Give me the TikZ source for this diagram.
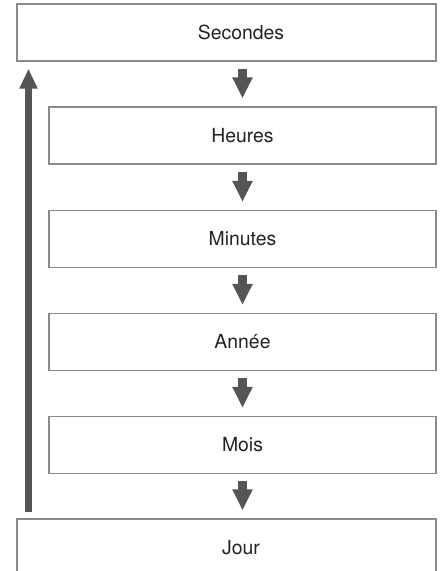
\documentclass[tikz,border=0pt]{standalone}
\usepackage{fontspec}
\setmainfont{TeX Gyre Heros}
\usetikzlibrary{arrows.meta}
\definecolor{boxline}{HTML}{8A8A8A}
\definecolor{arrowgray}{HTML}{555555}
\definecolor{textgray}{HTML}{222222}
\tikzset{
  unitbox/.style={draw=boxline, line width=0.65pt, minimum height=28.5pt,
    inner sep=0pt, text=textgray, font=\fontsize{9.7}{12}\selectfont},
  widebox/.style={unitbox, minimum width=209.5pt},
  narrowbox/.style={unitbox, minimum width=193.5pt},
  downarrow/.style={draw=arrowgray, line width=4.5pt,
    -{Triangle[width=9.5pt,length=10.5pt]}, shorten <=3.5pt, shorten >=4pt},
  backarrow/.style={draw=arrowgray, line width=3.7pt,
    -{Triangle[width=8.5pt,length=10pt]}, shorten <=3pt, shorten >=3.5pt}
}
% text in the wide boxes lines up with the arrows
\newcommand{\wideshift}[1]{\hspace*{14.5pt}#1}
\begin{document}
\begin{tikzpicture}[x=0.5pt, y=-0.5pt]
            \useasboundingbox (0,0) rectangle (442,571);

            % Boxes
            \node[widebox] (sec) at (226.5,32.5) {\wideshift{Secondes}};
            \node[narrowbox] (heu) at (242.5,135.5) {Heures};
            \node[narrowbox] (min) at (242.5,239) {Minutes};
            \node[narrowbox] (ann) at (242.5,342) {Année};
            \node[narrowbox] (moi) at (242.5,445) {Mois};
            \node[widebox] (jou) at (226.5,547.5) {\wideshift{Jour}};

            % Arrows down
            \foreach \a/\b in {sec/heu, heu/min, min/ann, ann/moi}
            \draw[downarrow] (\a.south -| \b.north) -- (\b.north);
            \draw[downarrow] (moi.south) -- (moi.south |- jou.north);

            % Arrow back up
            \coordinate (back) at (28.5,0);
            \draw[backarrow] (jou.north -| back) -- (sec.south -| back);

        \end{tikzpicture}
\end{document}
